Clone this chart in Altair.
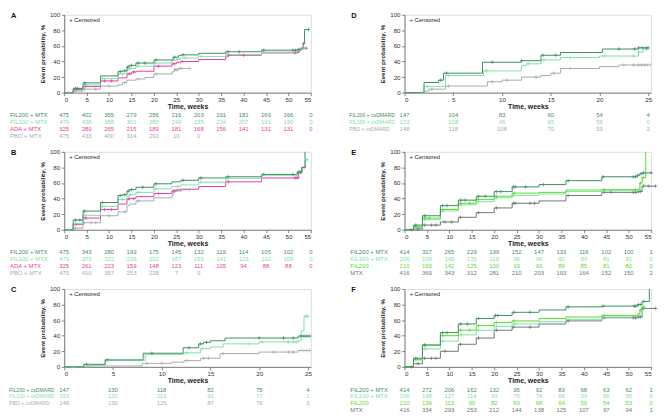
import altair as alt
import pandas as pd

# ---------------- data ----------------
TICKS55 = [0, 5, 10, 15, 20, 25, 30, 35, 40, 45, 50, 55]
TICKS25 = [0, 5, 10, 15, 20, 25]

# Panel A
A_FIL200_T = [0, 2, 4.2, 8.1, 12, 13, 14, 14.5, 16, 20, 24.3, 25.5, 26, 30, 36, 44, 52, 52.8, 53.3, 53.6, 54.5]
A_FIL200_V = [0, 5.5, 12.5, 21.5, 27, 28, 33, 35, 38, 42, 45.5, 47.5, 48.5, 50.5, 52.5, 54.5, 55.5, 57, 63, 81, 81]
A_FIL200_C = [2.5, 3, 4.6, 12.5, 13.5, 14.2, 15, 16.5, 18, 20.5, 24.6, 26.5, 36.5, 39, 44.5, 51, 51.6, 52.3, 53.4, 54.5]
A_FIL100_T = [0, 2, 4.2, 8.1, 12, 14, 14.5, 16, 20, 24, 25, 26, 30, 36, 44, 52.5, 53, 54]
A_FIL100_V = [0, 3, 10, 18, 24, 29, 31, 34, 38, 41.5, 43, 44.5, 46.5, 49, 52, 55.5, 57, 57]
A_FIL100_C = [2.5, 4.6, 8.5, 13, 14.7, 16.5, 20.3, 25.3, 27, 30.5, 36.3, 44.2, 51.8, 52.8, 53.5]
A_ADA_T = [0, 2, 4.2, 8.1, 12, 14, 15, 16, 20, 24, 25, 26, 30, 36, 36.5, 44, 52, 52.5, 53, 54]
A_ADA_V = [0, 4, 8, 15, 19, 24, 26.5, 27.5, 34, 37, 39, 40, 42.5, 46, 48, 51, 52, 55, 57, 57]
A_ADA_C = [2.6, 4.8, 9, 10.5, 14.5, 15.5, 21, 24.5, 26.3, 36.6, 40, 51.5, 52, 52.6, 53.2, 54]
A_PBO_T = [0, 2, 4.2, 8.1, 12, 13, 14, 16, 18, 20, 24, 24.5, 25.5, 28]
A_PBO_V = [0, 2, 4.5, 8.5, 10, 13, 16, 17.5, 19.5, 24, 26.5, 29.5, 31, 31]
A_PBO_C = [1, 2.5, 4.5, 7, 10, 13.5, 16.5, 20.5, 24.6, 24.9, 25.2, 25.8, 26.2, 28]

# Panel B
B_FIL200_T = [0, 2, 4.2, 8.1, 12, 13, 14, 14.5, 16, 20, 24, 26, 30, 36, 44, 52, 53, 53.7]
B_FIL200_V = [0, 12.5, 24, 35, 44, 45, 49.5, 51.5, 54.5, 59, 61.5, 63.5, 66.5, 68, 71, 74, 80, 100]
B_FIL200_C = [2.5, 3.5, 4.5, 8.5, 12.5, 13.5, 14.3, 15, 17.5, 20.5, 26.5, 30.5, 36.5, 44.5, 51, 52.2, 52.8]
B_FIL100_T = [0, 2, 4.2, 8.1, 12, 14, 14.5, 16, 20, 24, 26, 30, 36, 44, 52, 53, 53.8, 54.2]
B_FIL100_V = [0, 8, 18.5, 30, 39, 43, 45, 48, 52.5, 55.5, 57.5, 61, 66, 70, 73, 80, 90, 90]
B_FIL100_C = [2.5, 4.6, 8.5, 13, 14.7, 16.5, 20.3, 25.3, 30.5, 36.3, 44.2, 51.8, 52.8, 54.2]
B_ADA_T = [0, 2, 4.2, 8.1, 12, 14, 14.5, 16, 20, 24, 26, 30, 36, 44, 52.3, 53, 53.5]
B_ADA_V = [0, 7, 15, 26, 33, 39, 40, 42.5, 46.5, 50, 52, 55.5, 61.5, 66.5, 74, 80, 80]
B_ADA_C = [2.6, 4.8, 9, 10.5, 14.5, 15.5, 21, 24.5, 36.6, 51.5, 52, 52.6, 53.5]
B_PBO_T = [0, 2, 4.2, 8.1, 12, 14, 14.5, 16, 20, 24, 24.3, 25, 28]
B_PBO_V = [0, 2, 9, 18, 23, 31, 33, 37, 41, 44, 49, 51.5, 51.5]
B_PBO_C = [1, 2.5, 4.5, 6, 7, 10, 13.5, 16.5, 24.6, 25.2, 25.8, 26.2, 28]

# Panel C
C_FIL200_T = [0, 2, 4.2, 8.1, 12.2, 13.8, 14.3, 15, 16.5, 24, 25.2]
C_FIL200_V = [0, 3.3, 9, 17.5, 24.5, 29.5, 31.5, 33.5, 37, 39.5, 39.5]
C_FIL200_C = [2.3, 4.4, 9, 12.8, 14, 14.6, 20, 22.5, 23.5, 24.3, 24.6, 24.9, 25.2]
C_FIL100_T = [0, 2, 4.2, 8.3, 12.3, 14, 15, 16.3, 20, 24, 24.3, 24.6, 25]
C_FIL100_V = [0, 2.5, 8.2, 16, 18, 23.5, 25.5, 29.5, 32, 34, 46, 65, 65]
C_FIL100_C = [2.5, 4.5, 8.5, 12.6, 14.2, 19, 20.3, 23, 23.5, 23.8, 24.8, 25]
C_PBO_T = [0, 2.5, 8, 11, 12.3, 14, 16, 20, 24, 25.2]
C_PBO_V = [0, 1.2, 4.5, 6, 8, 11, 17, 19, 21, 21]
C_PBO_C = [1, 2.5, 8.5, 10, 12.6, 14.3, 14.8, 16.3, 21.5, 23, 23.5, 24.3, 24.6, 24.9, 25.2]

# Panel D
D_FIL200_T = [0, 2, 3.5, 4, 8, 12, 14, 16, 20.3, 24, 25]
D_FIL200_V = [0, 13, 16, 25, 39, 41, 48, 51.5, 56, 57.5, 57.5]
D_FIL200_C = [3.7, 4.3, 9, 12, 14.2, 15.5, 22, 23.6, 24, 24.4, 24.8, 25]
D_FIL100_T = [0, 2, 4.2, 8.1, 12, 12.5, 14, 16, 20, 24, 24.5, 25]
D_FIL100_V = [0, 8, 22, 28, 35, 37, 42, 45, 47, 52, 56, 56]
D_FIL100_C = [2.3, 4.5, 8.4, 12.7, 14.3, 17, 20.5, 23.5, 24, 24.8]
D_PBO_T = [0, 2, 2.5, 4.2, 8.5, 10, 12, 14, 15, 16, 20, 22, 25]
D_PBO_V = [0, 2, 4.5, 8.5, 14, 16, 20, 22, 25, 31, 33.5, 35.5, 35.5]
D_PBO_C = [1.8, 2.8, 4.5, 9, 10.5, 13.5, 15.3, 17, 22.5, 23.5, 24, 24.3, 24.6, 24.9, 25.2]

# Panel E
E_FIL200MTX_T = [0, 2, 4, 8, 12, 16, 20, 24, 30, 36, 44, 52, 52.5, 53, 55]
E_FIL200MTX_V = [0, 6, 18, 31, 38, 43, 49, 55, 58, 63, 68, 70, 72, 73, 73]
E_FIL200MTX_C = [2.5, 4.5, 8.5, 9.5, 12.5, 13.5, 16.5, 18, 20.5, 21.5, 24.3, 24.7, 27, 31, 36.5, 44.3, 51, 51.5, 52, 52.8, 53.3, 55]
E_FIL100MTX_T = [0, 2, 4, 8, 12, 16, 20, 24, 30, 36, 44, 52, 53, 53.5]
E_FIL100MTX_V = [0, 3, 13, 24, 32, 36, 41, 44, 46, 49, 50, 51, 57, 57]
E_FIL100MTX_C = [2.5, 4.5, 8.5, 12.6, 16.4, 20.5, 24.3, 44.3, 52.2, 53.5]
E_FIL200_T = [0, 2, 4, 8, 12, 16, 20, 24, 30, 36, 44, 52, 52.5, 53, 53.8]
E_FIL200_V = [0, 4, 15, 26, 34, 39, 43, 47, 48, 51, 51.5, 52, 60, 67, 100]
E_FIL200_C = [2.6, 4.6, 5.5, 8.6, 12.5, 14.5, 16.5, 20.5, 24.4, 44.5, 51.5, 52.6, 53.2]
E_MTX_T = [0, 2, 4, 8, 12, 16, 20, 24, 30, 36, 44, 52, 53, 56]
E_MTX_V = [0, 1, 6, 10, 16, 22, 28, 34, 37, 44, 48, 49, 56, 56]
E_MTX_C = [1.5, 3, 4.5, 6, 7, 9, 10.5, 12.5, 16.5, 20.5, 24.3, 24.7, 28, 29, 36.5, 44.5, 46, 51, 51.5, 52.2, 52.6, 53.3, 54.5, 56]

# Panel F
F_FIL200MTX_T = [0, 2, 4, 8, 12, 16, 20, 24, 30, 36, 44, 52, 53, 54.6]
F_FIL200MTX_V = [0, 11, 28, 44, 55, 62, 66, 70, 73, 77, 78, 80, 84, 100]
F_FIL200MTX_C = [2.5, 4.5, 8.5, 9.5, 12.5, 14, 16.5, 20.3, 20.8, 24.4, 28, 36.5, 44.3, 51.2, 51.6, 52.2, 52.7, 53.4]
F_FIL100MTX_T = [0, 2, 4, 8, 12, 16, 20, 24, 30, 36, 44, 52, 53, 53.5]
F_FIL100MTX_V = [0, 9, 23, 33, 41, 47, 52, 55, 58, 61, 64, 66, 76, 76]
F_FIL100MTX_C = [2.5, 4.6, 8.5, 12.6, 16.5, 20.5, 24.5, 44.3, 52.3, 53.5]
F_FIL200_T = [0, 2, 4, 8, 12, 16, 20, 24, 30, 36, 44, 52, 52.5, 53, 53.5]
F_FIL200_V = [0, 10, 28, 40, 47, 53, 57, 59, 62, 64, 66, 68, 73, 77, 77]
F_FIL200_C = [2.6, 3.5, 4.6, 8.6, 12.5, 14.5, 16.5, 20.5, 24.4, 44.5, 52.6, 53.2]
F_MTX_T = [0, 2, 4, 8, 12, 16, 20, 24, 30, 36, 44, 52, 53, 56]
F_MTX_V = [0, 4, 11, 20, 29, 37, 47, 51, 55, 59, 63, 64, 75, 75]
F_MTX_C = [1.5, 3, 4.5, 6, 7, 9, 12.5, 16.5, 20.5, 24.3, 28, 36.5, 44.5, 51, 51.5, 52.2, 52.6, 53.3, 56]

# Risk tables (numbers at risk)
A_RISK = [("FIL200 + MTX", [475, 402, 355, 279, 256, 216, 203, 191, 181, 169, 166, 0]),
          ("FIL100 + MTX", [479, 438, 388, 301, 280, 249, 235, 224, 207, 191, 190, 0]),
          ("ADA + MTX", [325, 289, 265, 215, 189, 181, 168, 156, 141, 131, 131, 0]),
          ("PBO + MTX", [475, 433, 400, 314, 292, 10, 0])]
B_RISK = [("FIL200 + MTX", [475, 343, 280, 199, 175, 145, 132, 119, 114, 105, 102, 0]),
          ("FIL100 + MTX", [479, 379, 322, 226, 202, 167, 155, 141, 123, 110, 109, 0]),
          ("ADA + MTX", [325, 261, 223, 159, 148, 123, 111, 105, 94, 88, 88, 0]),
          ("PBO + MTX", [475, 410, 357, 253, 228, 7, 0])]
C_RISK = [("FIL200 + csDMARD", [147, 130, 118, 82, 75, 4]),
          ("FIL100 + csDMARD", [153, 132, 119, 91, 77, 1]),
          ("PBO + csDMARD", [148, 130, 125, 87, 76, 3])]
D_RISK = [("FIL200 + csDMARD", [147, 104, 83, 60, 54, 4]),
          ("FIL100 + csDMARD", [153, 108, 96, 65, 56, 0]),
          ("PBO + csDMARD", [148, 118, 108, 70, 59, 2])]
E_RISK = [("FIL200 + MTX", [414, 317, 265, 229, 199, 152, 147, 133, 116, 102, 100, 1]),
          ("FIL100 + MTX", [206, 168, 145, 135, 118, 96, 96, 92, 84, 81, 81, 0]),
          ("FIL200", [210, 169, 142, 125, 109, 93, 93, 89, 85, 81, 80, 0]),
          ("MTX", [416, 369, 343, 312, 281, 210, 203, 193, 164, 152, 150, 2])]
F_RISK = [("FIL200 + MTX", [414, 272, 206, 162, 132, 95, 92, 83, 68, 63, 62, 1]),
          ("FIL100 + MTX", [206, 148, 127, 114, 99, 75, 74, 66, 59, 56, 56, 0]),
          ("FIL200", [210, 139, 113, 99, 82, 69, 68, 64, 59, 54, 53, 0]),
          ("MTX", [416, 334, 293, 253, 212, 144, 138, 125, 107, 97, 94, 1])]

# ---------------- styles ----------------
W, H = 250, 79
FONT = "Liberation Sans"
COL_FIL200MTX = "#3f8d64"
COL_FIL100 = "#7fe2a8"
COL_ADA = "#ec3aa8"
COL_PBO = "#a7adac"
COL_FIL200 = "#59dc2c"
COL_MTX = "#6f7777"
PLUS = "M-1,0L1,0M0,-1L0,1"


def step_value(T, V, t):
    val = V[0]
    for tt, vv in zip(T, V):
        if tt <= t:
            val = vv
    return val


def panel(letter, xmax, ticks, curves, risk, risk_colors, label_size=6.0, label_x=-55):
    xs = alt.Scale(domain=[0, xmax], nice=False, zero=True)
    ys = alt.Scale(domain=[0, 100], nice=False)
    xa = alt.Axis(values=ticks, title="Time, weeks", grid=False, tickSize=3,
                  labelFontSize=6.3, labelPadding=1, titleFontSize=7, titleFontWeight="bold",
                  titlePadding=0, domainColor="#666", tickColor="#666", labelColor="#333",
                  titleColor="#222", domainWidth=0.8, tickWidth=0.8)
    ya = alt.Axis(values=[0, 20, 40, 60, 80, 100], title="Event probability, %", grid=False,
                  tickSize=3, labelFontSize=6.3, labelPadding=1.5, titleFontSize=6.3,
                  titleFontWeight="bold", titlePadding=4, domainColor="#666", tickColor="#666",
                  labelColor="#333", titleColor="#222", domainWidth=0.8, tickWidth=0.8)
    line_rows, cens_rows = [], []
    for name, color, T, V, C in curves:
        for t, v in zip(T, V):
            line_rows.append({"t": t, "v": v, "s": name, "c": color})
        for t in C:
            cens_rows.append({"t": t, "v": step_value(T, V, t), "s": name, "c": color})
    X = alt.X("t:Q", scale=xs, axis=xa)
    Y = alt.Y("v:Q", scale=ys, axis=ya)
    lines = alt.Chart(pd.DataFrame(line_rows)).mark_line(
        interpolate="step-after", strokeWidth=1).encode(
        x=X, y=Y, color=alt.Color("c:N", scale=None), detail="s:N")
    cens = alt.Chart(pd.DataFrame(cens_rows)).mark_point(
        shape=PLUS, size=13, strokeWidth=0.7, filled=False, opacity=1).encode(
        x=X, y=Y, color=alt.Color("c:N", scale=None))
    layers = [lines, cens]
    for i, ((label, nums), col) in enumerate(zip(risk, risk_colors)):
        ypix = H + 23 + 7 * i
        df = pd.DataFrame({"t": ticks[:len(nums)], "n": [str(n) for n in nums]})
        layers.append(alt.Chart(df).mark_text(fontSize=6, color=col, baseline="middle").encode(
            x=X, y=alt.value(ypix), text="n:N"))
        layers.append(alt.Chart(pd.DataFrame({"l": [label]})).mark_text(
            fontSize=label_size, color=col, align="left", baseline="middle").encode(
            x=alt.value(label_x), y=alt.value(ypix), text="l:N"))
    layers.append(alt.Chart(pd.DataFrame({"l": ["+ Censored"]})).mark_text(
        fontSize=6, color="#222", align="left", baseline="middle").encode(
        x=alt.value(5), y=alt.value(5), text="l:N"))
    layers.append(alt.Chart(pd.DataFrame({"l": [letter]})).mark_text(
        fontSize=7.5, fontWeight="bold", color="#111", align="left", baseline="middle").encode(
        x=alt.value(-54), y=alt.value(1), text="l:N"))
    return alt.layer(*layers).properties(width=W, height=H)


pA = panel("A", 55, TICKS55, [
    ("PBO", COL_PBO, A_PBO_T, A_PBO_V, A_PBO_C),
    ("ADA", COL_ADA, A_ADA_T, A_ADA_V, A_ADA_C),
    ("FIL100", COL_FIL100, A_FIL100_T, A_FIL100_V, A_FIL100_C),
    ("FIL200", COL_FIL200MTX, A_FIL200_T, A_FIL200_V, A_FIL200_C)],
    A_RISK, [COL_FIL200MTX, COL_FIL100, COL_ADA, COL_PBO])
pB = panel("B", 55, TICKS55, [
    ("PBO", COL_PBO, B_PBO_T, B_PBO_V, B_PBO_C),
    ("ADA", COL_ADA, B_ADA_T, B_ADA_V, B_ADA_C),
    ("FIL100", COL_FIL100, B_FIL100_T, B_FIL100_V, B_FIL100_C),
    ("FIL200", COL_FIL200MTX, B_FIL200_T, B_FIL200_V, B_FIL200_C)],
    B_RISK, [COL_FIL200MTX, COL_FIL100, COL_ADA, COL_PBO])
pC = panel("C", 25.3, TICKS25, [
    ("PBO", COL_PBO, C_PBO_T, C_PBO_V, C_PBO_C),
    ("FIL100", COL_FIL100, C_FIL100_T, C_FIL100_V, C_FIL100_C),
    ("FIL200", COL_FIL200MTX, C_FIL200_T, C_FIL200_V, C_FIL200_C)],
    C_RISK, [COL_FIL200MTX, COL_FIL100, COL_PBO], label_size=5.2, label_x=-56)
pD = panel("D", 25.3, TICKS25, [
    ("PBO", COL_PBO, D_PBO_T, D_PBO_V, D_PBO_C),
    ("FIL100", COL_FIL100, D_FIL100_T, D_FIL100_V, D_FIL100_C),
    ("FIL200", COL_FIL200MTX, D_FIL200_T, D_FIL200_V, D_FIL200_C)],
    D_RISK, [COL_FIL200MTX, COL_FIL100, COL_PBO], label_size=5.2, label_x=-56)
pE = panel("E", 55, TICKS55, [
    ("MTX", COL_MTX, E_MTX_T, E_MTX_V, E_MTX_C),
    ("FIL100MTX", COL_FIL100, E_FIL100MTX_T, E_FIL100MTX_V, E_FIL100MTX_C),
    ("FIL200", COL_FIL200, E_FIL200_T, E_FIL200_V, E_FIL200_C),
    ("FIL200MTX", COL_FIL200MTX, E_FIL200MTX_T, E_FIL200MTX_V, E_FIL200MTX_C)],
    E_RISK, [COL_FIL200MTX, COL_FIL100, COL_FIL200, COL_MTX])
pF = panel("F", 55, TICKS55, [
    ("MTX", COL_MTX, F_MTX_T, F_MTX_V, F_MTX_C),
    ("FIL100MTX", COL_FIL100, F_FIL100MTX_T, F_FIL100MTX_V, F_FIL100MTX_C),
    ("FIL200", COL_FIL200, F_FIL200_T, F_FIL200_V, F_FIL200_C),
    ("FIL200MTX", COL_FIL200MTX, F_FIL200MTX_T, F_FIL200MTX_V, F_FIL200MTX_C)],
    F_RISK, [COL_FIL200MTX, COL_FIL100, COL_FIL200, COL_MTX])

chart = alt.concat(pA, pD, pB, pE, pC, pF, columns=2,
                   spacing={"row": 60, "column": 95}, bounds="flush").properties(
    padding=0).configure_view(stroke=None).configure(font=FONT)

chart.save("out.html", embed_options={"renderer": "svg", "actions": False})
